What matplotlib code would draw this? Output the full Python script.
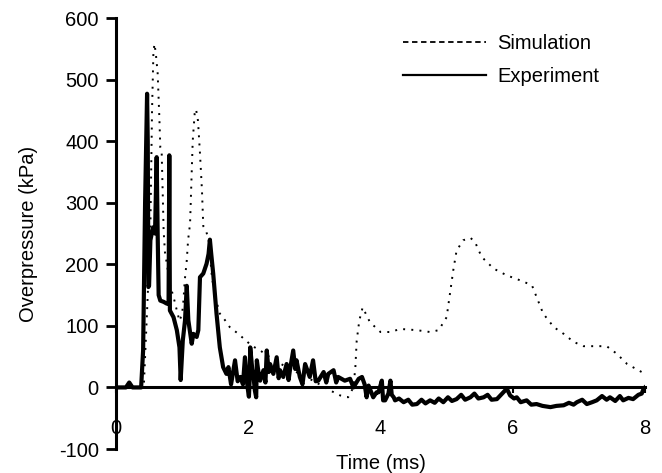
import matplotlib
matplotlib.use("Agg")
import matplotlib.pyplot as plt
from matplotlib.lines import Line2D

plt.rcParams['font.family'] = ['Liberation Sans', 'DejaVu Sans']
plt.rcParams['axes.unicode_minus'] = False

# simulation trace (ms, kPa)
sim_t = [0, 0.42, 0.48, 0.52, 0.545, 0.565, 0.58, 0.60, 0.63, 0.655, 0.67, 0.69,
         0.71, 0.72, 0.74, 0.77, 0.82, 0.87, 0.92, 0.96, 1.00, 1.02, 1.04, 1.07,
         1.09, 1.12, 1.16, 1.19, 1.21, 1.24, 1.27, 1.30, 1.32, 1.36, 1.40, 1.45,
         1.50, 1.57, 1.65, 1.72, 1.85, 2.05, 2.18, 2.33, 2.48, 2.63, 2.78, 2.98,
         3.24, 3.39, 3.51, 3.59, 3.62, 3.64, 3.68, 3.73, 3.84, 4.0, 4.15, 4.30,
         4.55, 4.75, 4.88, 5.0, 5.05, 5.10, 5.15, 5.25, 5.36, 5.43, 5.53, 5.71,
         5.91, 6.11, 6.29, 6.36, 6.46, 6.62, 6.77, 6.92, 7.07, 7.42, 7.57, 7.73, 7.95]
sim_p = [0, 0, 150, 260, 450, 540, 558, 545, 510, 440, 390, 385,
         300, 255, 220, 200, 165, 147, 125, 108, 120, 141, 174, 206,
         239, 266, 400, 445, 452, 433, 380, 320, 262, 255, 240, 180,
         147, 120, 109, 98, 87, 68, 60, 49, 39, 30, 22, 11,
         -5, -13, -16, 0, 33, 76, 109, 130, 106, 90, 90, 95,
         93, 90, 93, 114, 152, 190, 222, 239, 243, 236, 212, 193,
         182, 174, 166, 147, 120, 98, 87, 74, 67, 67, 55, 38, 25]

# experiment trace (ms, kPa)
exp_t = [0, 0.15, 0.2, 0.25, 0.38, 0.41, 0.44, 0.47, 0.48, 0.49, 0.50, 0.52,
         0.56, 0.59, 0.60, 0.615, 0.63, 0.645, 0.67, 0.72, 0.77, 0.795, 0.806,
         0.815, 0.87, 0.92, 0.96, 0.978, 1.01, 1.044, 1.07, 1.094, 1.145, 1.17,
         1.22, 1.245, 1.27, 1.32, 1.37, 1.40, 1.42, 1.44, 1.47, 1.52, 1.57, 1.62,
         1.67, 1.70, 1.74, 1.80, 1.84, 1.88, 1.92, 1.95, 1.99, 2.01, 2.02, 2.03,
         2.06, 2.08, 2.10, 2.12, 2.13, 2.16, 2.18, 2.23, 2.26, 2.28, 2.31, 2.33,
         2.38, 2.43, 2.46, 2.48, 2.53, 2.58, 2.61, 2.63, 2.68, 2.71, 2.73, 2.78,
         2.82, 2.86, 2.93, 2.98, 3.02, 3.06, 3.14, 3.18, 3.21, 3.29, 3.33, 3.36,
         3.46, 3.54, 3.59, 3.67, 3.72, 3.76, 3.79, 3.82, 3.89, 3.94, 3.97, 4.02,
         4.04, 4.07, 4.12, 4.15, 4.17, 4.20, 4.22, 4.28, 4.35, 4.42, 4.48, 4.55,
         4.62, 4.68, 4.75, 4.82, 4.88, 4.95, 5.02, 5.08, 5.15, 5.22, 5.28, 5.36,
         5.42, 5.48, 5.56, 5.62, 5.68, 5.76, 5.84, 5.91, 5.96, 6.02, 6.06, 6.12,
         6.21, 6.28, 6.36, 6.45, 6.57, 6.66, 6.77, 6.85, 6.92, 6.97, 7.05, 7.12,
         7.20, 7.27, 7.35, 7.42, 7.47, 7.55, 7.62, 7.67, 7.75, 7.82, 7.90, 7.95,
         7.98, 8.0]
exp_p = [0, 0, 8, 0, 0, 60, 300, 477, 400, 163, 165, 239,
         260, 250, 300, 374, 250, 150, 141, 139, 136, 136, 377,
         125, 114, 93, 65, 12, 76, 109, 165, 109, 71, 87,
         82, 93, 179, 185, 201, 217, 240, 217, 185, 120, 65, 33,
         22, 33, 5, 44, 10, 17, 5, 49, 0, -15, 10, 65,
         30, 17, -5, -16, 44, 20, 11, 28, 8, 60, 25, 38,
         22, 49, 15, 28, 17, 38, 12, 28, 60, 30, 44, 17,
         5, 38, 17, 44, 10, 11, 25, 8, 22, 28, 8, 17,
         11, 14, 0, 14, 17, 5, -16, 3, -16, -8, -8, 11,
         -21, -21, -10, 11, -12, -16, -21, -18, -24, -20, -28, -27,
         -20, -26, -21, -25, -18, -24, -16, -22, -19, -12, -20, -16,
         -10, -18, -16, -12, -20, -19, -10, -2, -13, -18, -16, -24,
         -21, -28, -27, -30, -32, -30, -29, -25, -28, -24, -20, -27,
         -24, -21, -14, -20, -16, -22, -14, -21, -17, -19, -12, -10,
         -2, 0]

x_ticks = [0, 2, 4, 6, 8]
y_ticks = [-100, 0, 100, 200, 300, 400, 500, 600]

fs = 14.5
fig = plt.figure(figsize=(6.62, 4.73), dpi=100)
ax = fig.add_axes([116 / 662, 24 / 473, 529 / 662, 431 / 473])

ax.plot(sim_t, sim_p, color='black', lw=1.4, ls=(0, (1, 3.2)))
ax.plot(exp_t, exp_p, color='black', lw=3.0, solid_joinstyle='round')

ax.set_xlim(0, 8)
ax.set_ylim(-100, 600)
ax.set_xticks(x_ticks)
ax.set_yticks(y_ticks)

for side in ['top', 'right']:
    ax.spines[side].set_visible(False)
ax.spines['bottom'].set_position(('data', 0))
ax.spines['bottom'].set_linewidth(2.2)
ax.spines['left'].set_linewidth(2.2)

ax.tick_params(axis='y', direction='out', length=7.5, width=2, pad=5, labelsize=fs)
ax.tick_params(axis='x', direction='out', length=4, width=1.5, pad=19, labelsize=fs)

ax.set_xlabel('Time (ms)', fontsize=fs, labelpad=11)
ax.set_ylabel('Overpressure (kPa)', fontsize=fs)
ax.yaxis.set_label_coords(-0.147, 0.5)

handles = [Line2D([], [], color='black', lw=1.3, ls=(0, (3, 2))),
           Line2D([], [], color='black', lw=1.6)]
ax.legend(handles, ['Simulation', 'Experiment'], loc='upper left',
          bbox_to_anchor=((403 - 116) / 529, 0.963), frameon=False,
          fontsize=fs, handlelength=4.13, handletextpad=0.55,
          borderpad=0, borderaxespad=0, labelspacing=0.72)

fig.savefig('out.png', dpi=100)
